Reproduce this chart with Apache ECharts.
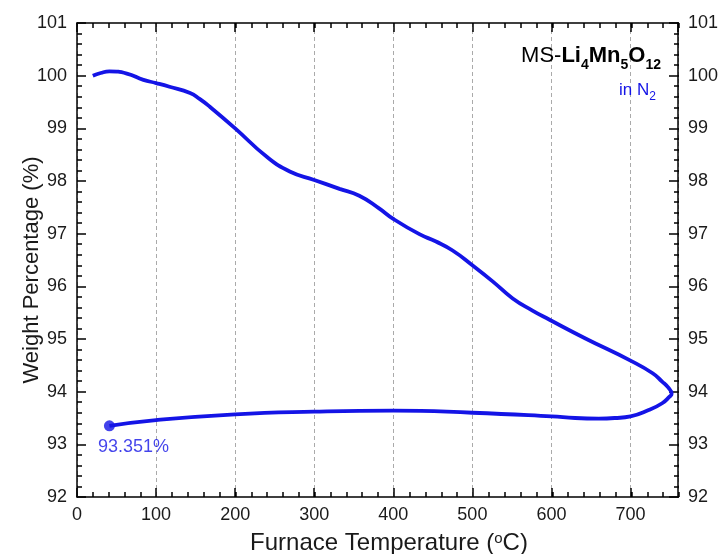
<!DOCTYPE html>
<html>
<head>
<meta charset="utf-8">
<script src="https://cdn.jsdelivr.net/npm/echarts@6/dist/echarts.min.js"></script>
<style>html,body{margin:0;padding:0;background:#fff}#c{width:721px;height:554px}</style>
</head>
<body>
<div id="c"></div>
<script>
var heating = [[20,100.00],[30,100.05],[41,100.08],[63,100.04],[84,99.92],[100,99.86],[117,99.79],[143,99.67],[155,99.56],[168,99.41],[200,99.00],[240,98.46],[269,98.18],[300,98.02],[332,97.85],[357,97.72],[382,97.48],[400,97.28],[433,96.99],[454,96.85],[475,96.68],[500,96.40],[526,96.09],[551,95.77],[576,95.54],[597,95.37],[643,95.01],[700,94.59],[728,94.35],[740,94.19],[747,94.09],[752,93.96]];
var cooling = [[749,93.90],[740,93.78],[723,93.65],[700,93.53],[680,93.50],[660,93.49],[630,93.50],[600,93.53],[500,93.60],[400,93.64],[300,93.62],[200,93.57],[100,93.46],[41,93.351]];
var endPoint = [[41,93.351]];
var endLabel = '93.351%';
var xMin = 0, xMax = 760, xMajor = 100, xMinor = 20;
var yMin = 92, yMax = 101, yMajor = 1, yMinor = 0.2;

var FONT = 'Liberation Sans, Arial, Helvetica, sans-serif';
var BLUE = '#1414e6';
var curve = heating.concat(cooling);

var chart = echarts.init(document.getElementById('c'), null, {renderer:'canvas'});
var gridRect = {left:77, right:42, top:23, bottom:57};
function majorX(pos, labels){
  return {type:'value', gridIndex:0, position:pos, min:xMin, max:xMax, interval:xMajor,
    axisLine:{show:true, onZero:false, lineStyle:{color:'#000', width:1.5}},
    axisTick:{show:true, inside:true, length:9, lineStyle:{color:'#000', width:1.5}},
    minorTick:{show:false},
    axisLabel:{show:labels, margin:9, fontSize:18, color:'#1a1a1a', fontFamily:FONT, showMaxLabel:false},
    splitLine:{show:labels, lineStyle:{color:'#aaaaaa', width:1, type:[4,3]}}
  };
}
function minorX(pos){
  return {type:'value', gridIndex:1, position:pos, min:xMin, max:xMax, interval:xMinor,
    axisLine:{show:false, onZero:false},
    axisTick:{show:true, inside:true, length:5, lineStyle:{color:'#000', width:1.5}},
    minorTick:{show:false},
    axisLabel:{show:false}, splitLine:{show:false}
  };
}
function majorY(pos){
  return {type:'value', gridIndex:0, position:pos, min:yMin, max:yMax, interval:yMajor,
    axisLine:{show:true, onZero:false, lineStyle:{color:'#000', width:1.5}},
    axisTick:{show:true, inside:true, length:9, lineStyle:{color:'#000', width:1.5}},
    minorTick:{show:false},
    axisLabel:{show:true, margin:10, fontSize:18, color:'#1a1a1a', fontFamily:FONT},
    splitLine:{show:false}
  };
}
function minorY(pos){
  return {type:'value', gridIndex:1, position:pos, min:yMin, max:yMax, interval:yMinor,
    axisLine:{show:false, onZero:false},
    axisTick:{show:true, inside:true, length:5, lineStyle:{color:'#000', width:1.5}},
    minorTick:{show:false},
    axisLabel:{show:false}, splitLine:{show:false}
  };
}
chart.setOption({
  animation:false,
  grid:[Object.assign({}, gridRect), Object.assign({}, gridRect)],
  xAxis:[majorX('bottom', true), majorX('top', false), minorX('bottom'), minorX('top')],
  yAxis:[majorY('left'), majorY('right'), minorY('left'), minorY('right')],
  series:[
    {type:'line', xAxisIndex:0, yAxisIndex:0, data:curve, smooth:0.5, showSymbol:false,
      lineStyle:{color:BLUE, width:3.8}, z:3},
    {type:'scatter', xAxisIndex:0, yAxisIndex:0, data:endPoint, symbolSize:11,
      itemStyle:{color:BLUE}, z:4,
      label:{show:true, formatter:endLabel, position:'bottom', distance:4, offset:[24,3],
        color:BLUE, fontSize:18, fontFamily:FONT}}
  ],
  graphic:[
    {type:'text', x:32, y:270, rotation:Math.PI/2, z:10,
      style:{text:'Weight Percentage (%)', font:'22px '+FONT, fill:'#1a1a1a', align:'center', verticalAlign:'middle'}},
    {type:'text', x:389, y:543, z:10,
      style:{text:'Furnace Temperature ({s|o}C)', font:'24px '+FONT, fill:'#1a1a1a', align:'center', verticalAlign:'middle',
        rich:{s:{fontSize:15, fontFamily:FONT, verticalAlign:'top', fill:'#1a1a1a'}}}},
    {type:'text', x:661, y:72, z:10,
      style:{text:'{n|MS-}{b|Li}{s|4}{b|Mn}{s|5}{b|O}{s|12}', align:'right', verticalAlign:'bottom',
        rich:{
          n:{fontSize:22, fontFamily:FONT, fill:'#000', verticalAlign:'bottom', lineHeight:22, padding:[0,0,5,0]},
          b:{fontSize:22, fontFamily:FONT, fontWeight:'bold', fill:'#000', verticalAlign:'bottom', lineHeight:22, padding:[0,0,5,0]},
          s:{fontSize:14, fontFamily:FONT, fontWeight:'bold', fill:'#000', verticalAlign:'bottom', lineHeight:14}
        }}},
    {type:'text', x:656, y:103, z:10,
      style:{text:'{n|in N}{s|2}', align:'right', verticalAlign:'bottom',
        rich:{
          n:{fontSize:17, fontFamily:FONT, fill:BLUE, verticalAlign:'bottom', lineHeight:17, padding:[0,0,4,0]},
          s:{fontSize:12, fontFamily:FONT, fill:BLUE, verticalAlign:'bottom', lineHeight:12}
        }}}
  ]
});
</script>
</body>
</html>
